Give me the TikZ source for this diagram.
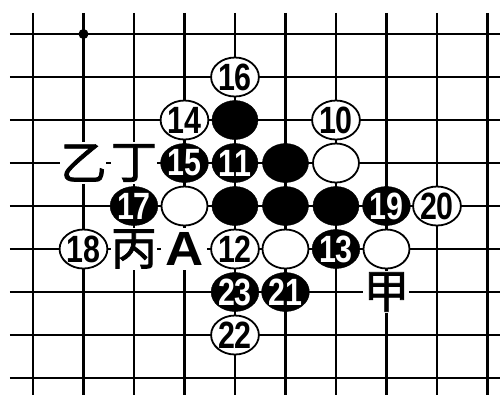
\documentclass[tikz,border=0pt]{standalone}
\usepackage{fontspec}
\setmainfont{Liberation Sans}
\newfontfamily\cjk{Noto Sans CJK SC}[FakeBold=1.6]
\usetikzlibrary{shapes.geometric}
\newcommand\movenum[1]{\scalebox{0.8}[1]{#1}}

\begin{document}
\begin{tikzpicture}[
  x=50.5pt, y=-43pt,
  grid/.style={line width=2.6pt},
  stone/.style={ellipse, inner sep=0pt, minimum width=46pt, minimum height=39pt,
                font=\fontsize{38}{38}\selectfont\bfseries},
  bstone/.style={stone, draw=black, fill=black, text=white},
  wstone/.style={stone, draw=black, line width=1.8pt, fill=white},
  lbl/.style={fill=white, inner sep=0pt, minimum width=46pt, minimum height=42pt,
              font=\cjk\fontsize{46}{46}\selectfont},
  letter/.style={lbl, font=\fontsize{48}{48}\selectfont\bfseries}
]
  \useasboundingbox (-0.653,-0.791) rectangle (9.248,8.395);
  \foreach \r in {0,...,8} \draw[grid] (-0.455,\r) -- (9.3,\r);
  \foreach \c in {0,...,9} \draw[grid] (\c,-0.49) -- (\c,8.4);
  \fill (1,0) circle (5pt);

  \node[wstone] (w16) at (4,1) {\movenum{16}};
  \node[wstone] (w14) at (3,2) {\movenum{14}};
  \node[bstone] (b42) at (4,2) {};
  \node[wstone] (w10) at (6,2) {\movenum{10}};

  \node[lbl] (yi) at (1,3) {乙};
  \node[lbl] (ding) at (2,3) {丁};
  \node[bstone] (b15) at (3,3) {\movenum{15}};
  \node[bstone] (b11) at (4,3) {\movenum{11}};
  \node[bstone] (b53) at (5,3) {};
  \node[wstone] (w63) at (6,3) {};

  \node[bstone] (b17) at (2,4) {\movenum{17}};
  \node[wstone] (w34) at (3,4) {};
  \node[bstone] (b44) at (4,4) {};
  \node[bstone] (b54) at (5,4) {};
  \node[bstone] (b64) at (6,4) {};
  \node[bstone] (b19) at (7,4) {\movenum{19}};
  \node[wstone] (w20) at (8,4) {\movenum{20}};

  \node[wstone] (w18) at (1,5) {\movenum{18}};
  \node[lbl] (bing) at (2,5) {丙};
  \node[letter] (ptA) at (3,5) {\scalebox{1.1}[1]{A}};
  \node[wstone] (w12) at (4,5) {\movenum{12}};
  \node[wstone] (w55) at (5,5) {};
  \node[bstone] (b13) at (6,5) {\movenum{13}};
  \node[wstone] (w75) at (7,5) {};

  \node[bstone] (b23) at (4,6) {\movenum{23}};
  \node[bstone] (b21) at (5,6) {\movenum{21}};
  \node[lbl] (jia) at (7,6) {甲};

  \node[wstone] (w22) at (4,7) {\movenum{22}};
\end{tikzpicture}
\end{document}
